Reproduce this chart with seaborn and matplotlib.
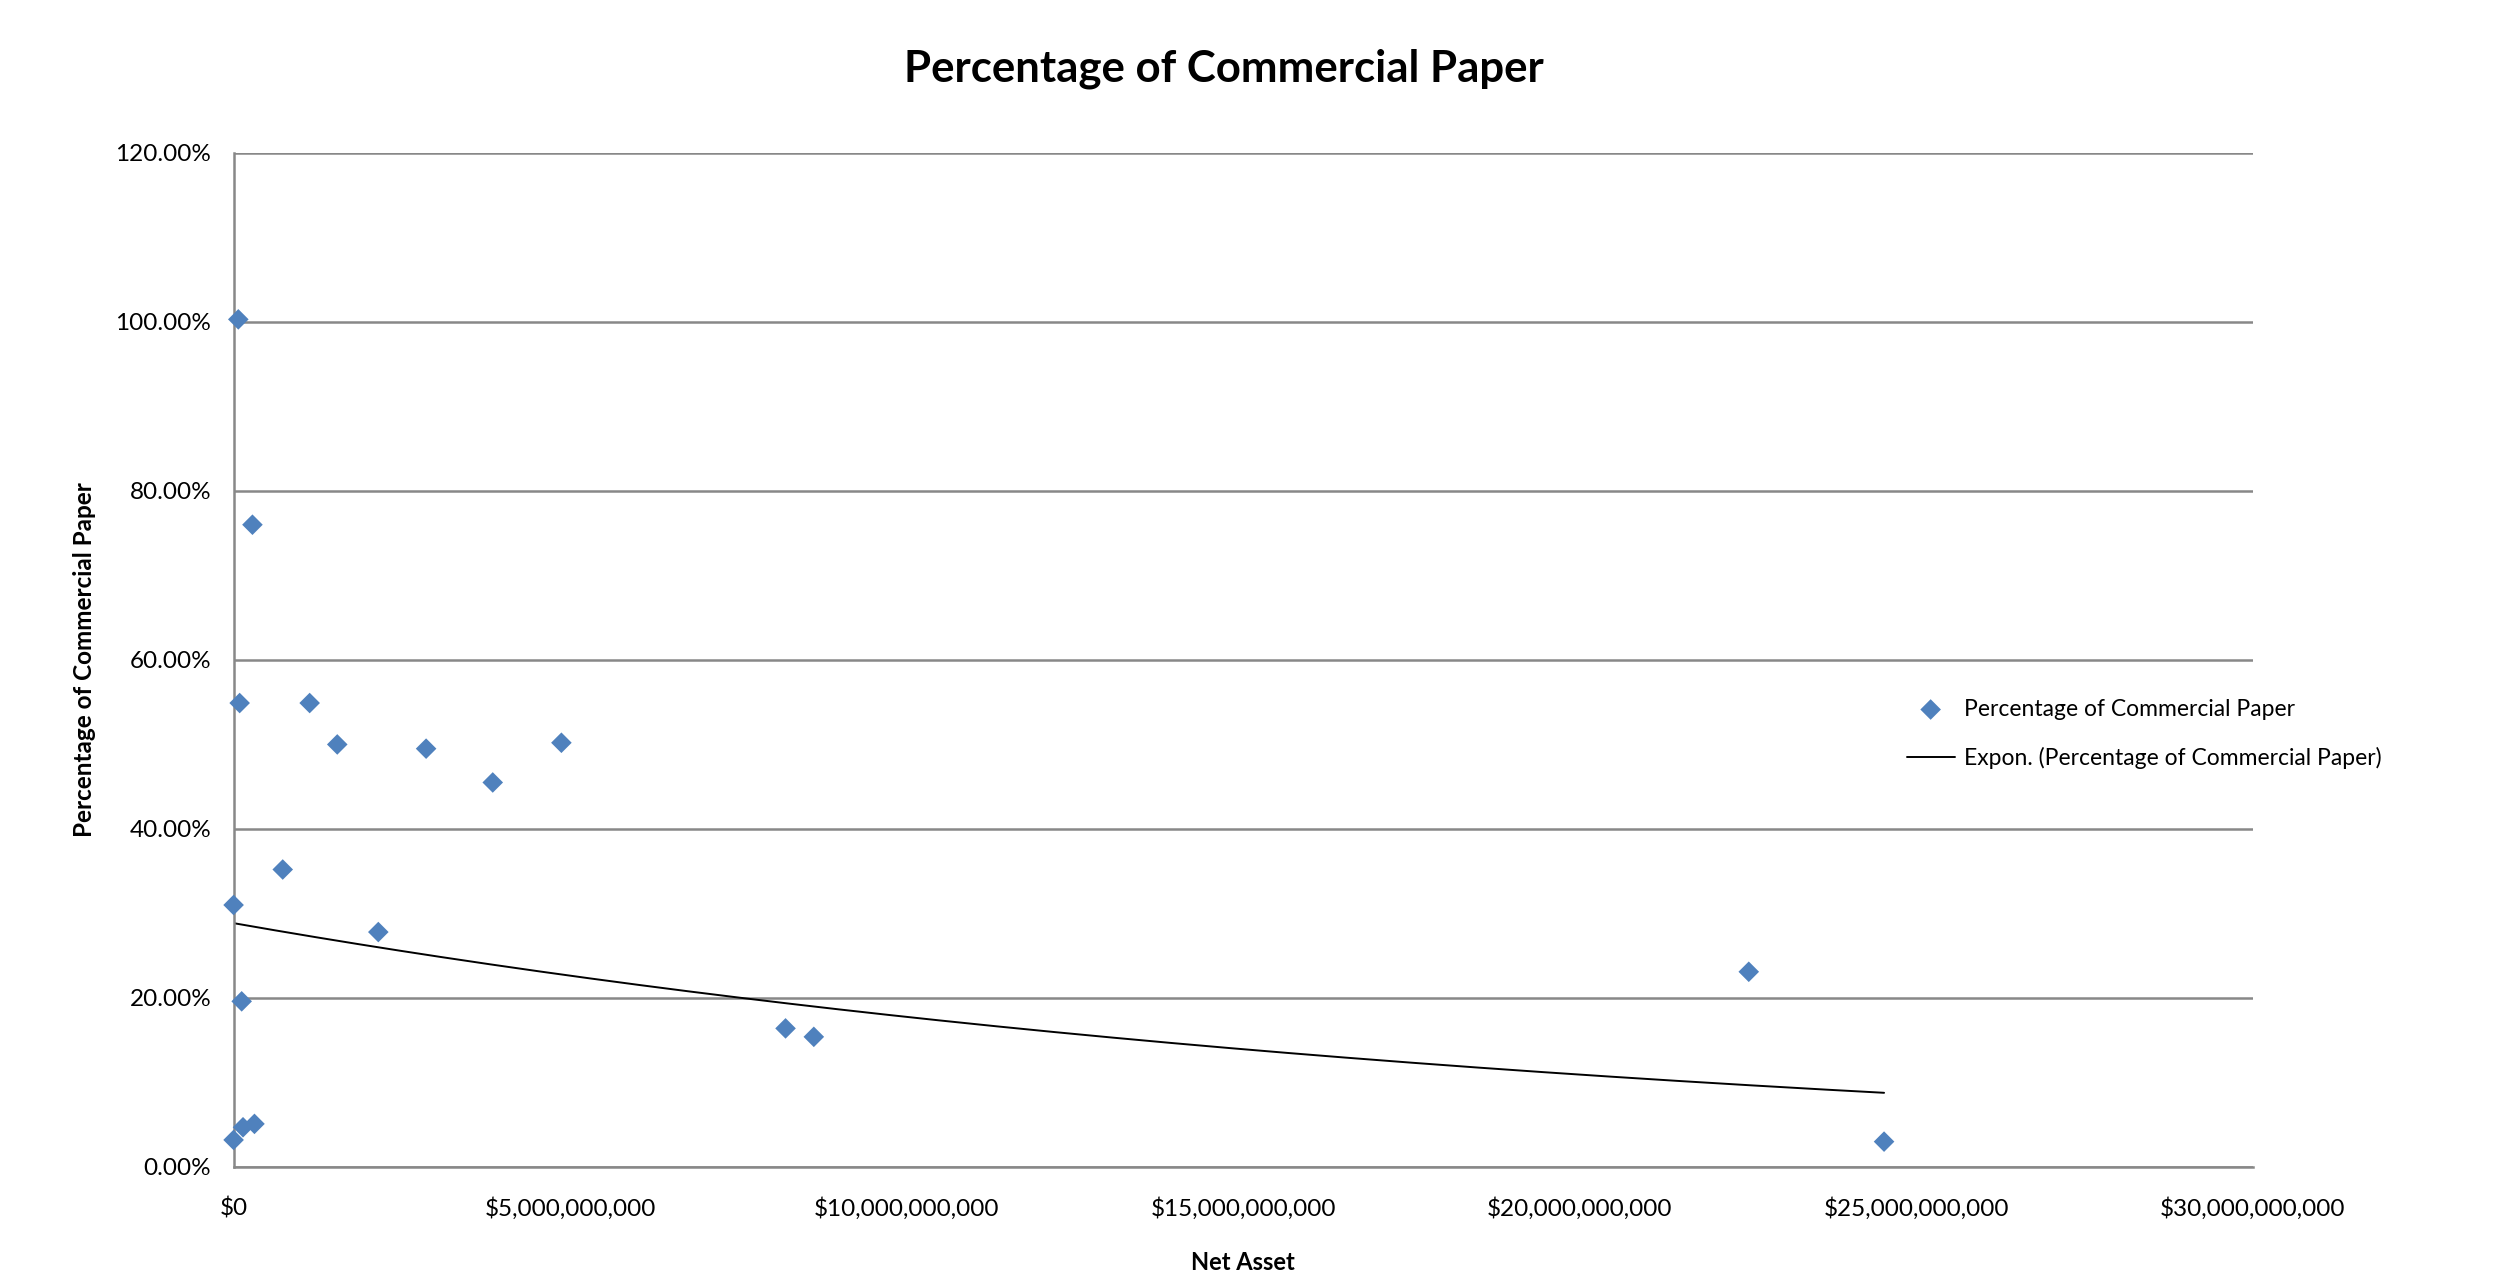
import numpy as np
import pandas as pd
import seaborn as sns
import matplotlib.pyplot as plt
from matplotlib.ticker import FuncFormatter

# Net asset ($) and share of commercial paper
net_asset = [0.07e9, 0.28e9, 0.09e9, 1.13e9, 1.54e9, 2.86e9, 3.85e9, 4.87e9,
             0.73e9, 0.00e9, 2.15e9, 0.12e9, 0.00e9, 0.14e9, 0.31e9,
             8.20e9, 8.62e9, 22.51e9, 24.52e9]
pct_cp = [1.003, 0.760, 0.549, 0.549, 0.500, 0.495, 0.455, 0.502,
          0.352, 0.310, 0.278, 0.196, 0.032, 0.047, 0.051,
          0.164, 0.154, 0.231, 0.030]

series_name = "Percentage of Commercial Paper"
trend_name = "Expon. (Percentage of Commercial Paper)"

data = pd.DataFrame({"Net Asset": net_asset, "Pct": pct_cp})

# exponential trendline, like Excel: fit ln(y) = ln(a) + b*x
b, ln_a = np.polyfit(data["Net Asset"], np.log(data["Pct"]), 1)
trend_x = np.linspace(data["Net Asset"].min(), data["Net Asset"].max(), 200)
trend = pd.DataFrame({"Net Asset": trend_x, "Pct": np.exp(ln_a) * np.exp(b * trend_x)})

sns.set_theme(style="white")
plt.rcParams['font.family'] = ['Lato', 'DejaVu Sans']
plt.rcParams['text.color'] = 'black'
plt.rcParams['axes.labelcolor'] = 'black'
plt.rcParams['xtick.color'] = 'black'
plt.rcParams['ytick.color'] = 'black'

fig = plt.figure(figsize=(24.93, 12.74), dpi=100)
ax = fig.add_axes([0.0937, 0.084, 0.81, 0.796])

sns.scatterplot(x="Net Asset", y="Pct", data=data, ax=ax, marker="D", s=110,
                color="#4F81BD", edgecolor="none", label=series_name, zorder=3,
                clip_on=False)
sns.lineplot(x="Net Asset", y="Pct", data=trend, ax=ax, color="black",
             linewidth=1.4, label=trend_name, zorder=2)

ax.set_xlim(0, 30e9)
ax.set_ylim(0, 1.2)
ax.set_xticks(np.arange(0, 30e9 + 1, 5e9))
ax.set_yticks(np.arange(0, 1.21, 0.2))
ax.xaxis.set_major_formatter(FuncFormatter(lambda v, p: f"${v:,.0f}"))
ax.yaxis.set_major_formatter(FuncFormatter(lambda v, p: f"{v*100:.2f}%"))
ax.tick_params(axis="both", labelsize=17.5, length=0)
ax.tick_params(axis="x", pad=22)
ax.tick_params(axis="y", pad=16)

ax.grid(axis="y", color="#888888", linewidth=1.8)
ax.set_axisbelow(True)
for side in ["top", "right"]:
    ax.spines[side].set_visible(False)
ax.spines["left"].set_color("#888888")
ax.spines["left"].set_linewidth(1.8)
ax.spines["bottom"].set_color("#888888")
ax.spines["bottom"].set_linewidth(1.8)

ax.set_xlabel("Net Asset", fontsize=17, fontweight="bold", labelpad=22)
ax.set_ylabel("Percentage of Commercial Paper", fontsize=17.5, fontweight="bold", labelpad=14)
fig.suptitle("Percentage of Commercial Paper", fontsize=31.5, fontweight="bold",
             x=0.491, y=0.962)

ax.legend(loc="center left", bbox_to_anchor=(0.7565, 0.424), bbox_transform=fig.transFigure,
          frameon=False, fontsize=16.5, handlelength=2.1, handletextpad=0.4, labelspacing=1.2)

plt.savefig("out.png", dpi=100)
